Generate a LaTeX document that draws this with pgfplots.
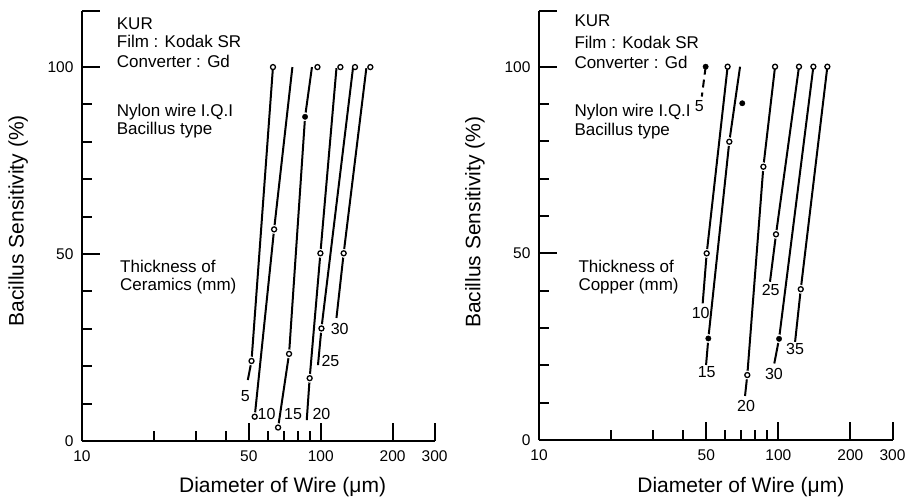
\documentclass[border=0pt]{standalone}
\usepackage{fontspec}
\setmainfont{Liberation Sans}
\usepackage{pgfplots}
\pgfplotsset{compat=1.18}

\newcommand\annfont{\fontsize{17}{19}\selectfont}
\newcommand\numfont{\fontsize{16}{18}\selectfont}

\pgfplotsset{
  kurpanel/.style={
    scale only axis,
    xmin=10, xmax=300, ymin=0, ymax=115,
    clip=false,
    axis x line*=bottom, axis y line*=left,
    axis line style={line width=2pt},
    xtick={10,50,100,200,300},
    xticklabels={10,50,100,200,300},
    minor xtick={20,30,40,60,70,80,90},
    ytick={0,50,100},
    yticklabels={0,50,100},
    minor ytick={10,20,30,40,60,70,80,90},
    extra y ticks={115}, extra y tick labels={},
    tick align=inside,
    major tick length=18pt, minor tick length=10pt,
    every tick/.style={black, line width=2pt},
    /pgf/number format/assume math mode=true,
    tick label style={font=\fontsize{15.5}{17}\selectfont},
    yticklabel style={xshift=-5pt},
    xticklabel style={yshift=-6pt},
    label style={font=\fontsize{21}{23}\selectfont},
  },
  ln/.style={black, line width=2pt, no markers},
  halo/.style={only marks, mark=*, mark size=4.2pt, mark options={draw=white, fill=white}},
  oc/.style={only marks, mark=*, mark size=2.5pt, mark options={draw=black, fill=white, line width=1.3pt}},
  fc/.style={only marks, mark=*, mark size=2.7pt, mark options={draw=black, fill=black}},
}

\begin{document}
\begin{tikzpicture}
\useasboundingbox (0,0) rectangle (908pt,496pt);

% ---- left panel: ceramics
\begin{semilogxaxis}[kurpanel,
  at={(82pt,55pt)}, anchor=south west,
  width=352.6pt, height=430pt,
  xlabel={Diameter of Wire (μm)},
  ylabel={Bacillus Sensitivity (\%)},
  xlabel style={at={(axis description cs:0.569,-0.106)}, anchor=center},
  ylabel style={at={(axis description cs:-0.181,0.512)}, anchor=center},
]
% lines
\addplot[ln] coordinates {(63.1,100) (51.3,21.4) (49.5,16.3)};
\addplot[ln] coordinates {(76.1,100) (63.8,56.6) (52.9,6.5)};
\addplot[ln] coordinates {(91.9,100) (86.0,86.7) (73.7,23.3) (66.3,3.6)};
\addplot[ln] coordinates {(116.4,99.7) (99.7,50.2) (89.9,16.8) (87.4,5.6)};
\addplot[ln] coordinates {(136.5,99.7) (100.7,30.1) (97.4,20.3)};
\addplot[ln] coordinates {(155.3,99.7) (124.8,50.2) (116.4,32.9)};
% gaps round the points
\addplot[halo] coordinates {(51.3,21.4) (63.8,56.6) (52.9,6.5) (86.0,86.7) (73.7,23.3) (66.3,3.6)
  (99.7,50.2) (89.9,16.8) (100.7,30.1) (124.8,50.2)};
% points
\addplot[oc] coordinates {(63.1,100) (51.3,21.4) (63.8,56.6) (52.9,6.5) (96.9,100) (73.7,23.3) (66.3,3.6)
  (120.9,100) (99.7,50.2) (89.9,16.8) (139.2,100) (100.7,30.1) (161.4,100) (124.8,50.2)};
\addplot[fc] coordinates {(86.0,86.7)};
% thickness labels
\node[font=\numfont] at (axis cs:48.3,12.1) {5};
\node[font=\numfont] at (axis cs:59.3,7.2) {10};
\node[font=\numfont] at (axis cs:76.6,7.2) {15};
\node[font=\numfont] at (axis cs:100.7,7.2) {20};
\node[font=\numfont] at (axis cs:109.8,21.5) {25};
\node[font=\numfont] at (axis cs:120.1,29.9) {30};
\end{semilogxaxis}

% ---- right panel: copper
\begin{semilogxaxis}[kurpanel,
  at={(539pt,56pt)}, anchor=south west,
  width=353.5pt, height=429.3pt,
  xlabel={Diameter of Wire (μm)},
  ylabel={Bacillus Sensitivity (\%)},
  xlabel style={at={(axis description cs:0.571,-0.110)}, anchor=center},
  ylabel style={at={(axis description cs:-0.181,0.507)}, anchor=center},
]
\addplot[ln, dash pattern=on 8pt off 5pt] coordinates {(49.7,100) (47.9,92.0)};
\addplot[ln] coordinates {(61.4,100) (50.2,50) (48.3,36.6)};
\addplot[ln] coordinates {(69.2,100) (62.4,79.9) (51.0,27.2) (49.9,20.1)};
\addplot[ln] coordinates {(96.9,100) (86.6,73.2) (74.2,17.4) (72.6,11.8)};
\addplot[ln] coordinates {(122.0,100) (97.8,55.1) (92.3,42.4)};
\addplot[ln] coordinates {(140.1,100) (100.7,27.1) (96.2,20.5)};
\addplot[ln] coordinates {(160.3,100) (124.1,40.4) (117.5,26.3)};
\addplot[halo] coordinates {(50.2,50) (70.7,90.2) (62.4,79.9) (51.0,27.2) (86.6,73.2) (74.2,17.4)
  (97.8,55.1) (100.7,27.1) (124.1,40.4)};
\addplot[oc] coordinates {(61.4,100) (50.2,50) (62.4,79.9) (96.9,100) (86.6,73.2) (74.2,17.4)
  (122.0,100) (97.8,55.1) (140.1,100) (160.3,100) (124.1,40.4)};
\addplot[fc] coordinates {(49.7,100) (70.7,90.2) (51.0,27.2) (100.7,27.1)};
\node[font=\numfont] at (axis cs:46.8,89.5) {5};
\node[font=\numfont] at (axis cs:47.4,33.9) {10};
\node[font=\numfont] at (axis cs:50.2,18.1) {15};
\node[font=\numfont] at (axis cs:73.3,9.2) {20};
\node[font=\numfont] at (axis cs:92.9,40.2) {25};
\node[font=\numfont] at (axis cs:95.9,17.7) {30};
\node[font=\numfont] at (axis cs:117.5,24.4) {35};
\end{semilogxaxis}

% ---- notes
\begin{scope}[every node/.style={anchor=west, inner sep=0pt, font=\annfont}]
\node at (116.7pt,472.7pt) {KUR};
\node at (116.7pt,454.3pt) {Film : Kodak SR};
\node at (116.7pt,434.3pt) {Converter : Gd};
\node at (116.7pt,384.3pt) {Nylon wire I.Q.I};
\node at (116.7pt,366pt) {Bacillus type};
\node at (120pt,229.3pt) {Thickness of};
\node at (120pt,210.3pt) {Ceramics (mm)};
\node at (574.3pt,475.3pt) {KUR};
\node at (574.3pt,453.3pt) {Film : Kodak SR};
\node at (574.3pt,433.3pt) {Converter : Gd};
\node at (574.3pt,384.3pt) {Nylon wire I.Q.I};
\node at (574.3pt,365pt) {Bacillus type};
\node at (578.3pt,229.3pt) {Thickness of};
\node at (578.3pt,210.3pt) {Copper (mm)};
\end{scope}
\end{tikzpicture}
\end{document}
